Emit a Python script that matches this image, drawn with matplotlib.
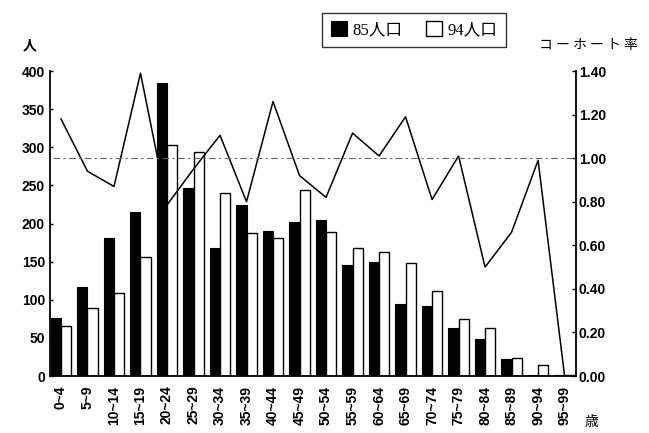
import numpy as np
import matplotlib.pyplot as plt

plt.rcParams['font.family'] = ['Liberation Sans', 'Noto Sans CJK JP', 'DejaVu Sans']

ages = ["0~4", "5~9", "10~14", "15~19", "20~24", "25~29", "30~34", "35~39",
        "40~44", "45~49", "50~54", "55~59", "60~64", "65~69", "70~74",
        "75~79", "80~84", "85~89", "90~94", "95~99"]
pop85 = [76, 117, 181, 215, 384, 246, 168, 224, 190, 202, 205, 146, 149, 94, 92, 63, 48, 22, 1, 1]
pop94 = [66, 89, 109, 156, 303, 294, 240, 188, 181, 244, 189, 168, 163, 148, 111, 75, 63, 24, 15, 1]
cohort = [1.18, 0.94, 0.87, 1.39, 0.785, 0.95, 1.105, 0.80, 1.26, 0.92, 0.82,
          1.115, 1.01, 1.19, 0.81, 1.01, 0.50, 0.66, 0.99, 0.0]

fig = plt.figure(figsize=(6.49, 4.33), dpi=100)
ax = fig.add_axes([0.077, 0.1316, 0.8105, 0.7044])
x = np.arange(len(ages))
w = 0.39

b1 = ax.bar(x - w / 2, pop85, w, color='black', edgecolor='black', linewidth=0.8)
b2 = ax.bar(x + w / 2, pop94, w, color='white', edgecolor='black', linewidth=1.0)

ax.set_xlim(-0.415, 19.43)
ax.set_ylim(0, 400)
ax.set_yticks(range(0, 401, 50))
ax.set_xticks(x)
ax.set_xticklabels(ages, rotation=90, fontsize=10, fontweight='bold')
ax.tick_params(axis='x', length=0, pad=7)
ax.tick_params(axis='y', labelsize=10, direction='in', length=2, width=1)
for t in ax.get_yticklabels():
    t.set_fontweight('bold')
ax.spines['top'].set_visible(False)
ax.spines['right'].set_visible(False)
ax.spines['left'].set_linewidth(1.3)
ax.spines['bottom'].set_linewidth(1.3)

ax2 = ax.twinx()
ax2.plot(x, cohort, color='black', linewidth=1.1)
ax2.axhline(1.0, color='0.4', linewidth=0.8, linestyle=(0, (6, 3, 2, 3)), xmin=0.005)
ax2.set_ylim(0, 1.4)
ax2.set_yticks(np.arange(0, 1.41, 0.2))
ax2.set_yticklabels([f"{v:.2f}" for v in np.arange(0, 1.41, 0.2)])
ax2.tick_params(axis='y', labelsize=10, direction='in', length=3, width=1, pad=2)
for t in ax2.get_yticklabels():
    t.set_fontweight('bold')
ax2.spines['top'].set_visible(False)
ax2.spines['left'].set_visible(False)
ax2.spines['bottom'].set_visible(False)
ax2.spines['right'].set_linewidth(1.3)

fig.text(0.046, 0.896, "人", fontsize=10, ha='center', va='center', fontweight='bold',
         family=['Noto Sans CJK JP'])
fig.text(0.906, 0.896, "コ ー ホ ー ト 率", fontsize=10, ha='center', va='center',
         family=['Noto Sans CJK JP'])
fig.text(0.912, 0.025, "歳", fontsize=10, ha='center', va='center',
         family=['Noto Sans CJK JP'])

leg = fig.legend([b1, b2], ["85人口", "94人口"], loc='center', bbox_to_anchor=(0.638, 0.931),
                 ncol=2, frameon=True, fancybox=False, edgecolor='black',
                 prop={'family': ['Liberation Serif', 'Noto Sans CJK JP'], 'size': 12},
                 handlelength=1.0, handleheight=1.0, handletextpad=0.3, columnspacing=1.4,
                 borderpad=0.5)
leg.get_frame().set_linewidth(1.0)

fig.savefig("out.png", dpi=100)
